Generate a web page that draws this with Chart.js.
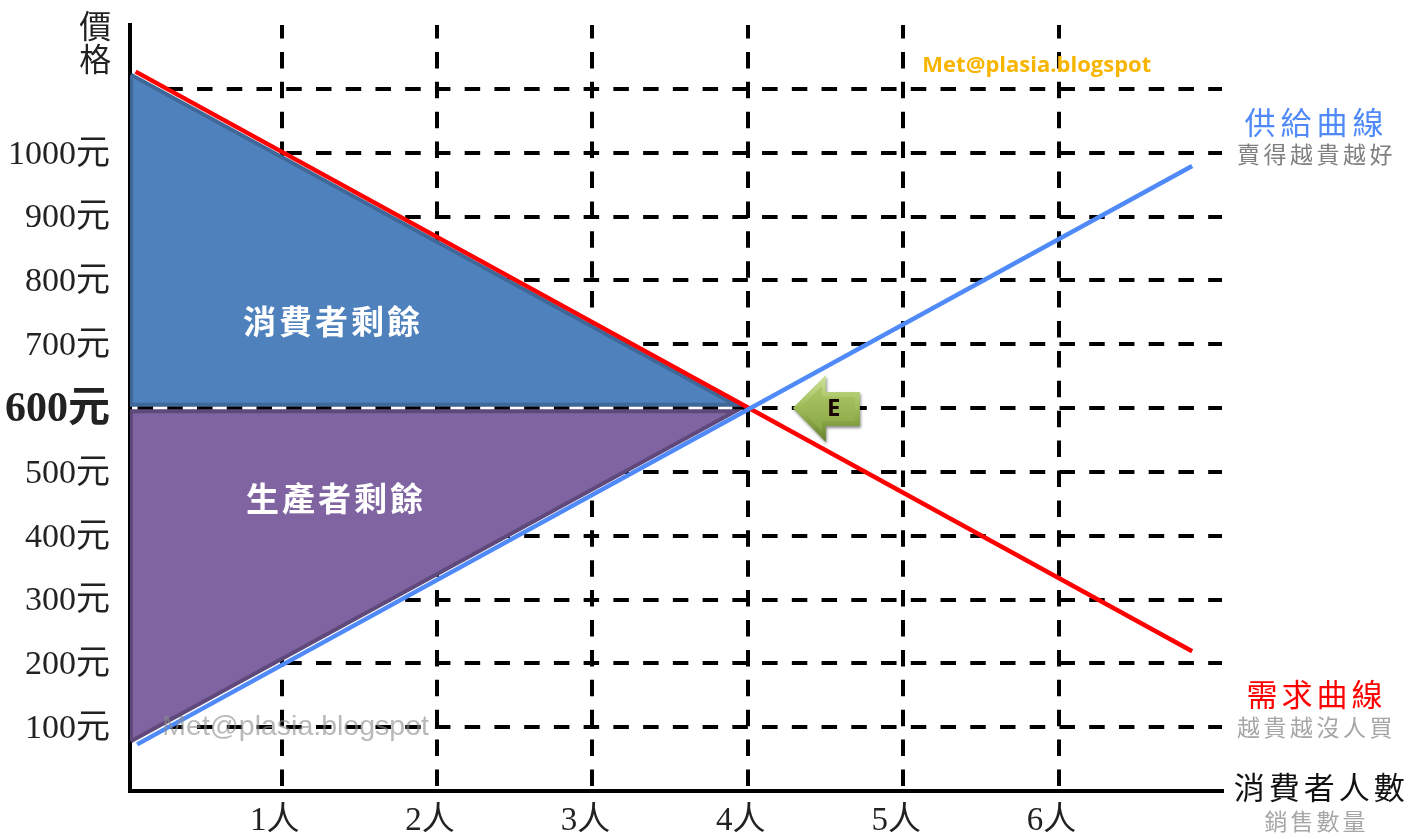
<!DOCTYPE html>
<html>
<head>
<meta charset="utf-8">
<title>消費者剩餘與生產者剩餘</title>
<script src="https://cdn.jsdelivr.net/npm/chart.js@4"></script>
<style>
    html, body { margin: 0; padding: 0; background: #ffffff; }
    canvas { display: block; }
</style>
</head>
<body>
<canvas id="surplusChart" width="1408" height="839"></canvas>
<script>
const quantityTicks = [1, 2, 3, 4, 5, 6];
const priceTicks = [100, 200, 300, 400, 500, 600, 700, 800, 900, 1000, 1100];
const unlabeledPrices = [1100];
const equilibriumPrice = 600;

const demandQty = [0.06, 6.86];
const demandPrice = [1127, 219];
const supplyQty = [0.07, 6.86];
const supplyPrice = [73, 979];

const consumerQty = [0.03, 3.92, 0.03, 0.03];
const consumerPrice = [1122, 605, 605, 1122];
const producerQty = [0.03, 3.92, 0.03, 0.03];
const producerPrice = [78, 595, 595, 78];

const toPoints = (xs, ys) => xs.map((x, i) => ({ x: x, y: ys[i] }));

const serif = '"Liberation Serif", "Noto Sans CJK TC"';
const cjk = '"Noto Sans CJK TC"';

// Text that sits on the plot, placed in data units so it follows the scales
const notes = [
    { text: "價", x: -0.2, y: 1199, font: `32px ${cjk}`, color: "#222222" },
    { text: "格", x: -0.2, y: 1147, font: `32px ${cjk}`, color: "#222222" },
    { text: "供給曲線", x: 7.66, y: 1048, font: `31px ${cjk}`, color: "#4f8af8", spacing: "5px" },
    { text: "賣得越貴越好", x: 7.66, y: 997, font: `23px ${cjk}`, color: "#808080", spacing: "3.5px" },
    { text: "需求曲線", x: 7.66, y: 151, font: `31px ${cjk}`, color: "#ff0000", spacing: "4px" },
    { text: "越貴越沒人買", x: 7.66, y: 100, font: `23px ${cjk}`, color: "#a6a6a6", spacing: "3.5px" },
    { text: "消費者人數", x: 7.69, y: 6, font: `31px ${cjk}`, color: "#111111", spacing: "4px" },
    { text: "銷售數量", x: 7.66, y: -47, font: `23px ${cjk}`, color: "#a6a6a6", spacing: "3px" },
    { text: "消費者剩餘", x: 1.33, y: 735, font: `bold 33px ${cjk}`, color: "#ffffff", spacing: "3px" },
    { text: "生產者剩餘", x: 1.35, y: 458, font: `bold 33px ${cjk}`, color: "#ffffff", spacing: "3px" },
    { text: "Met@plasia.blogspot", x: 5.86, y: 1136, font: 'bold 22px "Open Sans"', color: "#f7b500" },
    { text: "Met@plasia.blogspot", x: 1.09, y: 100, font: '28.5px "Liberation Sans"', color: "rgba(140,140,140,0.62)" }
];

// Block arrow pointing at the equilibrium, drawn relative to its tip
const arrowTip = { x: 4.29, y: 600 };
const arrowLabel = "E";

const surplusPlugin = {
    id: "surplusNotes",
    afterDatasetsDraw(chart) {
        const ctx = chart.ctx;
        const xScale = chart.scales.x;
        const yScale = chart.scales.y;

        const tipX = xScale.getPixelForValue(arrowTip.x);
        const tipY = yScale.getPixelForValue(arrowTip.y);
        const trace = (pts) => {
            ctx.beginPath();
            pts.forEach((p, i) => {
                if (i === 0) ctx.moveTo(tipX + p[0], tipY + p[1]);
                else ctx.lineTo(tipX + p[0], tipY + p[1]);
            });
            ctx.closePath();
        };

        ctx.save();
        const edge = ctx.createLinearGradient(0, tipY - 33, 0, tipY + 34);
        edge.addColorStop(0, "#cfe39a");
        edge.addColorStop(0.5, "#9dba56");
        edge.addColorStop(1, "#66822d");
        ctx.shadowColor = "rgba(0,0,0,0.45)";
        ctx.shadowBlur = 3;
        ctx.shadowOffsetX = 1;
        ctx.shadowOffsetY = 2;
        ctx.fillStyle = edge;
        trace([[0, 0], [33, -33], [33, -16], [67, -16], [67, 18], [33, 18], [33, 34]]);
        ctx.fill();
        ctx.shadowColor = "transparent";
        const face = ctx.createLinearGradient(0, tipY - 26, 0, tipY + 27);
        face.addColorStop(0, "#b0ca68");
        face.addColorStop(1, "#87a544");
        ctx.fillStyle = face;
        trace([[7, 0], [29, -22], [29, -11], [62, -11], [62, 13], [29, 13], [29, 23]]);
        ctx.fill();

        ctx.textAlign = "center";
        ctx.textBaseline = "middle";
        ctx.fillStyle = "#1a0505";
        ctx.font = 'bold 24px "Open Sans"';
        ctx.fillText(arrowLabel, tipX + 41, tipY + 1);

        notes.forEach(note => {
            ctx.font = note.font;
            ctx.fillStyle = note.color;
            ctx.letterSpacing = note.spacing || "0px";
            ctx.fillText(note.text, xScale.getPixelForValue(note.x), yScale.getPixelForValue(note.y));
        });
        ctx.restore();
    }
};

new Chart(document.getElementById("surplusChart"), {
    type: "line",
    data: {
        datasets: [
            {
                label: "消費者剩餘",
                data: toPoints(consumerQty, consumerPrice),
                backgroundColor: "#4f81bd",
                borderColor: "#3f6797",
                borderWidth: 4,
                fill: "shape",
                order: 4
            },
            {
                label: "生產者剩餘",
                data: toPoints(producerQty, producerPrice),
                backgroundColor: "#8064a2",
                borderColor: "#5f497a",
                borderWidth: 4,
                fill: "shape",
                order: 3
            },
            {
                label: "需求曲線",
                data: toPoints(demandQty, demandPrice),
                borderColor: "#ff0000",
                borderWidth: 4.5,
                fill: false,
                order: 2
            },
            {
                label: "供給曲線",
                data: toPoints(supplyQty, supplyPrice),
                borderColor: "#4f8af8",
                borderWidth: 4.5,
                fill: false,
                order: 1
            }
        ]
    },
    options: {
        responsive: false,
        animation: false,
        events: [],
        layout: { padding: { top: 25, right: 186, bottom: 0, left: 0 } },
        elements: {
            point: { radius: 0 },
            line: { tension: 0 }
        },
        plugins: {
            legend: { display: false },
            tooltip: { enabled: false }
        },
        scales: {
            x: {
                type: "linear",
                min: 0.024,
                max: 7.052,
                afterBuildTicks: (axis) => { axis.ticks = quantityTicks.map(v => ({ value: v })); },
                afterFit: (axis) => { axis.height = 48; },
                grid: { color: "#000000", lineWidth: 4, drawTicks: false },
                border: { color: "#000000", width: 4, dash: [16.5, 13.4], dashOffset: 3 },
                ticks: {
                    autoSkip: false,
                    maxRotation: 0,
                    padding: 11,
                    labelOffset: -7,
                    color: "#222222",
                    font: { family: serif, size: 33 },
                    callback: (value) => value + "人"
                }
            },
            y: {
                type: "linear",
                min: 0,
                max: 1200,
                afterBuildTicks: (axis) => { axis.ticks = priceTicks.map(v => ({ value: v })); },
                afterFit: (axis) => { axis.width = 130; axis.paddingTop = 0; axis.paddingBottom = 0; },
                grid: { color: "#000000", lineWidth: 4, drawTicks: false },
                border: { color: "#000000", width: 4, dash: [15.5, 14.24], dashOffset: 24.2 },
                ticks: {
                    autoSkip: false,
                    padding: 20,
                    labelOffset: 2,
                    color: "#222222",
                    font: (ctx) => ctx.tick && ctx.tick.value === equilibriumPrice
                        ? { family: serif, size: 42, weight: "bold" }
                        : { family: serif, size: 34 },
                    callback: (value) => unlabeledPrices.includes(value) ? "" : value + "元"
                }
            }
        }
    },
    plugins: [surplusPlugin]
});
</script>
</body>
</html>
